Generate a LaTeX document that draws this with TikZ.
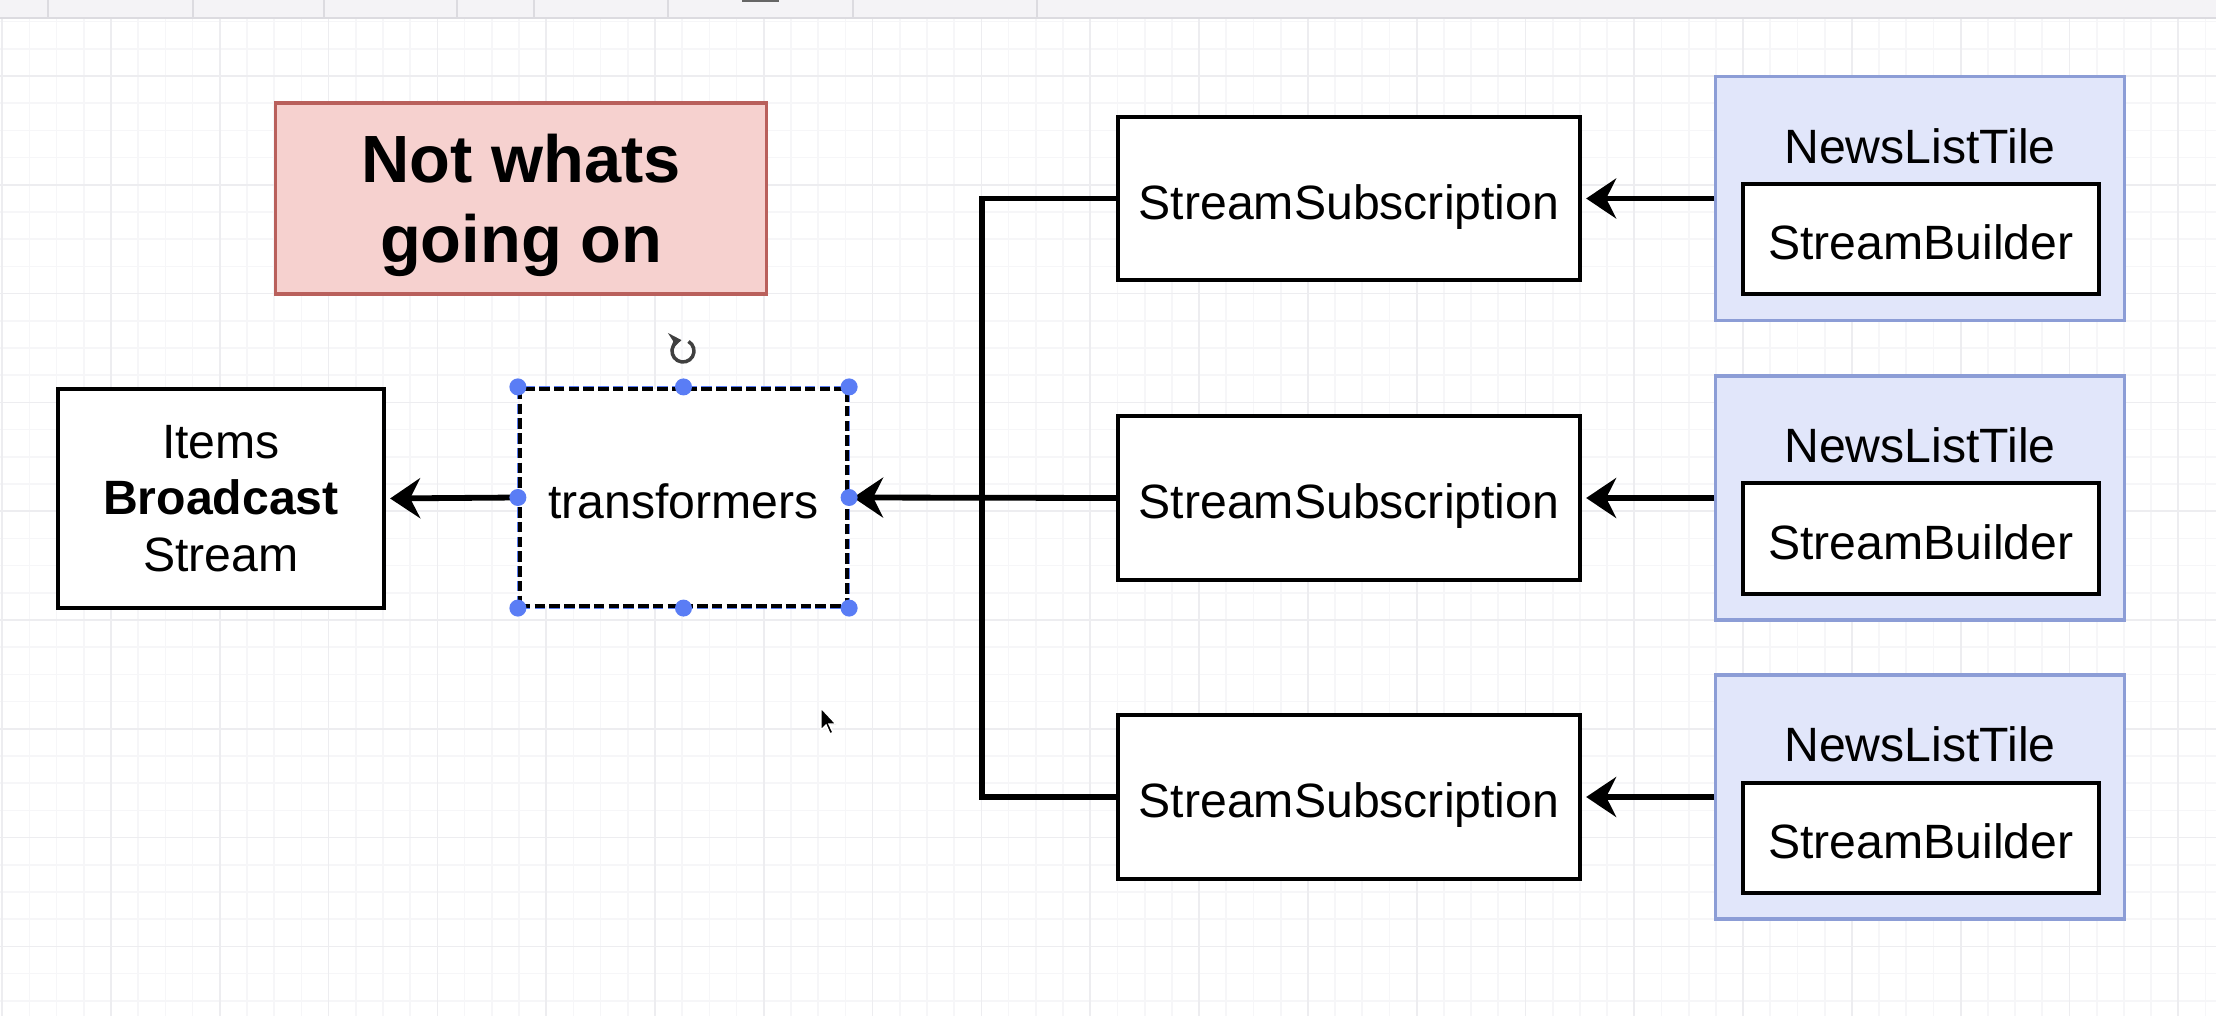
\documentclass[tikz,border=0pt]{standalone}
\usepackage{fontspec}
\setmainfont{Liberation Sans}
\usetikzlibrary{arrows.meta}

\definecolor{warnfill}{HTML}{F6D1CF}
\definecolor{warndraw}{HTML}{B9605C}
\definecolor{tilefill}{HTML}{E1E6FA}
\definecolor{tiledraw}{HTML}{8C9DD6}
\definecolor{selblue}{HTML}{5A7DF5}
\definecolor{gridminor}{HTML}{F6F6F8}
\definecolor{gridmajor}{HTML}{EDEDF0}
\definecolor{barfill}{HTML}{F4F3F6}
\definecolor{barline}{HTML}{DCDBE0}

\begin{document}
\begin{tikzpicture}[x=0.01cm,y=-0.01cm,
  every node/.style={font=\fontsize{13.7}{16.1}\selectfont, inner sep=0pt},
  box/.style={draw=black, line width=1.15pt, fill=white, align=center},
  oneline/.style={text height=13.9pt, text depth=2pt},
  warnbox/.style={draw=warndraw, line width=0.9pt, fill=warnfill, align=center,
    minimum width=4.9cm, minimum height=1.91cm, text depth=0pt,
    font=\fontsize{19}{22.8}\selectfont\bfseries},
  tilebox/.style={draw=tiledraw, line width=0.9pt, fill=tilefill,
    minimum width=4.08cm, minimum height=2.44cm},
  subbox/.style={box, oneline, minimum width=4.62cm, minimum height=1.63cm},
  buildbox/.style={box, oneline, minimum width=3.56cm, minimum height=1.10cm},
  link/.style={line width=1.65pt},
  arrow/.style={link, -{Stealth[length=0.3cm, width=0.4cm, inset=0.1cm]}, shorten >=0.04cm},
  handle/.style={circle, fill=selblue, minimum size=0.17cm}
]

  % Canvas
  \fill[white] (0,0) rectangle (2216,1016);
  \useasboundingbox (0,0) rectangle (2216,1016);
  \foreach \i in {0,...,81}
    \draw[gridminor, line width=0.5pt] ({2.2+27.2*\i},18) -- ({2.2+27.2*\i},1016);
  \foreach \i in {0,...,36}
    \draw[gridminor, line width=0.5pt] (0,{21.6+27.2*\i}) -- (2216,{21.6+27.2*\i});
  \foreach \i in {0,...,20}
    \draw[gridmajor, line width=0.5pt] ({2.2+108.8*\i},18) -- ({2.2+108.8*\i},1016);
  \foreach \i in {0,...,8}
    \draw[gridmajor, line width=0.5pt] (0,{76+108.8*\i}) -- (2216,{76+108.8*\i});

  % Toolbar
  \fill[barfill] (0,0) rectangle (2216,18);
  \draw[barline, line width=0.8pt] (0,18) -- (2216,18);
  \foreach \x in {48,193,324,457,534,668,853,1037}
    \draw[barline, line width=0.8pt] (\x,0) -- (\x,18);
  \fill[black!60] (742,0) rectangle (779,2.5);

  % Note
  \node[warnbox] (note) at (521,198.5) {Not whats\\going on};

  % Stream and transformers
  \node[box, minimum width=3.26cm, minimum height=2.19cm] (items) at (221,498.5)
    {Items\\\textbf{Broadcast}\\Stream};
  \node[box, oneline, minimum width=3.27cm, minimum height=2.17cm, dash pattern=on 3pt off 1.2pt,
    preaction={draw=selblue, line width=1.7pt}] (trans) at (683.5,497.5) {transformers};

  % Subscriptions
  \node[subbox] (sub1) at (1349,198.5) {StreamSubscription};
  \node[subbox] (sub2) at (1349,498) {StreamSubscription};
  \node[subbox] (sub3) at (1349,797) {StreamSubscription};

  % Tiles
  \node[tilebox] (tile1) at (1920,198.5) {};
  \node (name1) at (1920,146) {NewsListTile};
  \node[buildbox] (build1) at (1921,239) {StreamBuilder};

  \node[tilebox] (tile2) at (1920,498) {};
  \node (name2) at (1920,445.5) {NewsListTile};
  \node[buildbox] (build2) at (1921,538.5) {StreamBuilder};

  \node[tilebox] (tile3) at (1920,797) {};
  \node (name3) at (1920,744.5) {NewsListTile};
  \node[buildbox] (build3) at (1921,838) {StreamBuilder};

  % Arrows
  \coordinate (bus) at (982,498);
  \draw[link] (sub1.west) -| (bus);
  \draw[link] (sub3.west) -| (bus);
  \draw[arrow] (sub2.west) -- (trans.east);
  \draw[arrow] (trans.west) -- (items.east);
  \draw[arrow] (tile1.west) -- (sub1.east);
  \draw[arrow] (tile2.west) -- (sub2.east);
  \draw[arrow] (tile3.west) -- (sub3.east);

  % Selection handles
  \foreach \p/\n in {north west/nw, north/n, north east/ne, west/w, east/e,
                     south west/sw, south/s, south east/se}
    \node[handle] (h\n) at (trans.\p) {};
  \coordinate (rot) at (683,351);
  \draw[black!75, line width=1pt, -{Stealth[length=3.5pt, width=5pt]}]
    (rot) ++({11*cos(-60)},{11*sin(-60)}) arc[start angle=-60, end angle=262, radius=11];

  % Pointer
  \coordinate (ptr) at (821,708);
  \filldraw[black, draw=white, line width=0.4pt] (ptr) -- ++(0,22) -- ++(5,-5)
    -- ++(4,9) -- ++(3,-1.5) -- ++(-4,-8.5) -- ++(7,0) -- cycle;
\end{tikzpicture}
\end{document}
